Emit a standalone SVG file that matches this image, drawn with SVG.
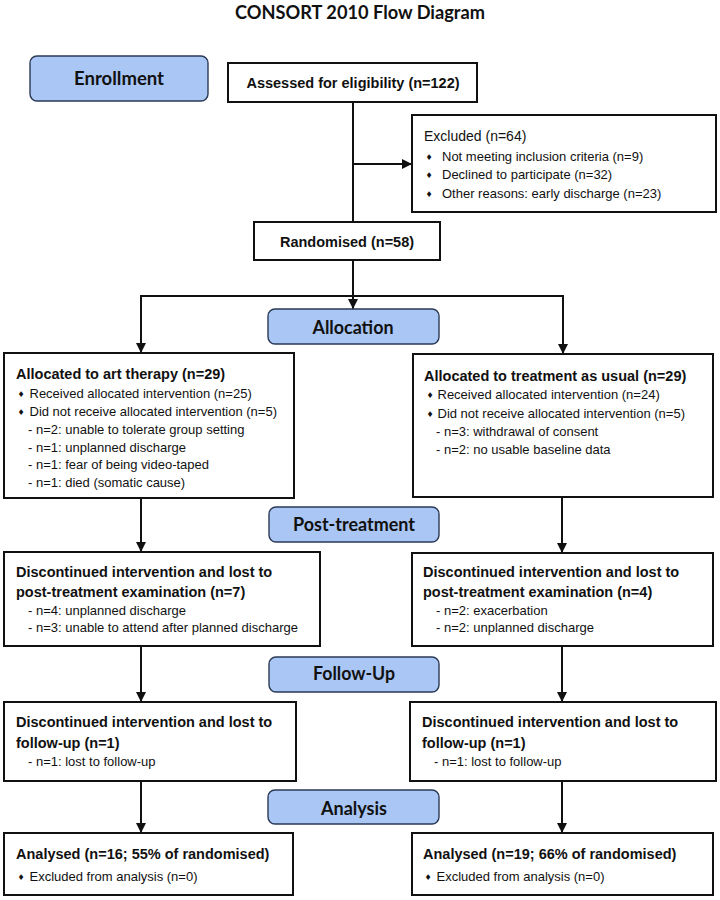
<svg xmlns="http://www.w3.org/2000/svg" width="720" height="900" viewBox="0 0 720 900">
<style>
  .bg{fill:#ffffff}
  .box{fill:#ffffff;stroke:#111;stroke-width:2}
  .phase{fill:#a9c6f5;stroke:#2b3a55;stroke-width:1.4}
  .ph{font-family:Lato,"Open Sans","Liberation Sans",sans-serif;font-weight:bold;font-size:18px;fill:#111;text-anchor:middle}
  .ttl{font-family:Lato,"Open Sans","Liberation Sans",sans-serif;font-weight:bold;font-size:18px;fill:#111;text-anchor:middle}
  .b{font-family:"Liberation Sans",Arial,sans-serif;font-weight:bold;font-size:14.5px;fill:#111}
  .r{font-family:"Liberation Sans",Arial,sans-serif;font-size:13px;fill:#111}
  .ex{font-family:"Liberation Sans",Arial,sans-serif;font-size:14px;fill:#111}
  .dm{font-family:"DejaVu Sans",sans-serif;font-size:8px;fill:#111;text-anchor:middle}
  .ln{fill:none;stroke:#111;stroke-width:2}
</style>
<defs>
  <marker id="arr" markerUnits="userSpaceOnUse" markerWidth="10" markerHeight="10" refX="10" refY="5" orient="auto">
    <path d="M0,0 L10,5 L0,10 z" fill="#111"/>
  </marker>
</defs>
<rect class="bg" x="0" y="0" width="720" height="900"/>
<text class="ttl" x="360" y="19" textLength="250" lengthAdjust="spacingAndGlyphs">CONSORT 2010 Flow Diagram</text>

<g id="connectors">
  <line class="ln" x1="353" y1="102" x2="353" y2="222"/>
  <line class="ln" x1="353" y1="164" x2="412" y2="164" marker-end="url(#arr)"/>
  <line class="ln" x1="353" y1="260" x2="353" y2="309" marker-end="url(#arr)"/>
  <line class="ln" x1="140" y1="296" x2="564" y2="296"/>
  <line class="ln" x1="141" y1="295" x2="141" y2="353" marker-end="url(#arr)"/>
  <line class="ln" x1="563" y1="295" x2="563" y2="354" marker-end="url(#arr)"/>
  <line class="ln" x1="141" y1="498" x2="141" y2="552" marker-end="url(#arr)"/>
  <line class="ln" x1="562" y1="497" x2="562" y2="553" marker-end="url(#arr)"/>
  <line class="ln" x1="141" y1="646" x2="141" y2="702" marker-end="url(#arr)"/>
  <line class="ln" x1="562" y1="646" x2="562" y2="702" marker-end="url(#arr)"/>
  <line class="ln" x1="141" y1="781" x2="141" y2="833" marker-end="url(#arr)"/>
  <line class="ln" x1="562" y1="781" x2="562" y2="833" marker-end="url(#arr)"/>
</g>

<g id="enrollment">
  <rect class="phase" x="30" y="56" width="178" height="45" rx="7"/>
  <text class="ph" x="119" y="85" textLength="90" lengthAdjust="spacingAndGlyphs">Enrollment</text>
</g>
<g id="assessed">
  <rect class="box" x="228" y="63" width="249" height="39"/>
  <text class="b" x="353" y="88" text-anchor="middle">Assessed for eligibility (n=122)</text>
</g>
<g id="excluded">
  <rect class="box" x="412" y="115" width="304" height="97"/>
  <text class="ex" x="424" y="141">Excluded (n=64)</text>
  <text class="dm" x="429" y="160">♦</text><text class="r" x="442" y="160.5">Not meeting inclusion criteria (n=9)</text>
  <text class="dm" x="429" y="178">♦</text><text class="r" x="442" y="178.5">Declined to participate (n=32)</text>
  <text class="dm" x="429" y="197">♦</text><text class="r" x="442" y="197.5">Other reasons: early discharge (n=23)</text>
</g>
<g id="randomised">
  <rect class="box" x="254" y="222" width="186" height="38"/>
  <text class="b" x="347" y="247" text-anchor="middle">Randomised (n=58)</text>
</g>
<g id="allocation">
  <rect class="phase" x="268" y="309" width="171" height="35" rx="7"/>
  <text class="ph" x="353" y="334" textLength="81" lengthAdjust="spacingAndGlyphs">Allocation</text>
</g>
<g id="alloc-art">
  <rect class="box" x="4" y="353" width="290" height="145"/>
  <text class="b" x="16" y="379">Allocated to art therapy (n=29)</text>
  <text class="dm" x="21" y="397">♦</text><text class="r" x="29.5" y="398">Received allocated intervention (n=25)</text>
  <text class="dm" x="21" y="415">♦</text><text class="r" x="29.5" y="416">Did not receive allocated intervention (n=5)</text>
  <text class="r" x="28" y="434">- n=2: unable to tolerate group setting</text>
  <text class="r" x="28" y="452">- n=1: unplanned discharge</text>
  <text class="r" x="28" y="469">- n=1: fear of being video-taped</text>
  <text class="r" x="28" y="487">- n=1: died (somatic cause)</text>
</g>
<g id="alloc-tau">
  <rect class="box" x="413" y="354" width="300" height="143"/>
  <text class="b" x="424" y="381">Allocated to treatment as usual (n=29)</text>
  <text class="dm" x="430" y="398">♦</text><text class="r" x="437.5" y="399">Received allocated intervention (n=24)</text>
  <text class="dm" x="430" y="417">♦</text><text class="r" x="437.5" y="418">Did not receive allocated intervention (n=5)</text>
  <text class="r" x="436" y="436">- n=3: withdrawal of consent</text>
  <text class="r" x="436" y="454">- n=2: no usable baseline data</text>
</g>
<g id="post-treatment">
  <rect class="phase" x="269" y="507" width="170" height="35" rx="7"/>
  <text class="ph" x="354" y="531" textLength="122" lengthAdjust="spacingAndGlyphs">Post-treatment</text>
</g>
<g id="disc-art">
  <rect class="box" x="4" y="552" width="316" height="94"/>
  <text class="b" x="16" y="577">Discontinued intervention and lost to</text>
  <text class="b" x="16" y="597">post-treatment examination (n=7)</text>
  <text class="r" x="28" y="614.5">- n=4: unplanned discharge</text>
  <text class="r" x="28" y="632">- n=3: unable to attend after planned discharge</text>
</g>
<g id="disc-tau">
  <rect class="box" x="412" y="553" width="301" height="93"/>
  <text class="b" x="423" y="577">Discontinued intervention and lost to</text>
  <text class="b" x="423" y="597">post-treatment examination (n=4)</text>
  <text class="r" x="436" y="614.5">- n=2: exacerbation</text>
  <text class="r" x="436" y="632">- n=2: unplanned discharge</text>
</g>
<g id="follow-up">
  <rect class="phase" x="269" y="657" width="170" height="35" rx="7"/>
  <text class="ph" x="354" y="680" textLength="82" lengthAdjust="spacingAndGlyphs">Follow-Up</text>
</g>
<g id="fu-art">
  <rect class="box" x="4" y="702" width="292" height="79"/>
  <text class="b" x="16" y="727">Discontinued intervention and lost to</text>
  <text class="b" x="16" y="748">follow-up (n=1)</text>
  <text class="r" x="28" y="765.5">- n=1: lost to follow-up</text>
</g>
<g id="fu-tau">
  <rect class="box" x="410" y="702" width="306" height="79"/>
  <text class="b" x="422" y="727">Discontinued intervention and lost to</text>
  <text class="b" x="422" y="748">follow-up (n=1)</text>
  <text class="r" x="434" y="765.5">- n=1: lost to follow-up</text>
</g>
<g id="analysis">
  <rect class="phase" x="268" y="790" width="171" height="34" rx="7"/>
  <text class="ph" x="354" y="815" textLength="66" lengthAdjust="spacingAndGlyphs">Analysis</text>
</g>
<g id="analysed-art">
  <rect class="box" x="4" y="833" width="289" height="62"/>
  <text class="b" x="16" y="859">Analysed (n=16; 55% of randomised)</text>
  <text class="dm" x="21" y="880">♦</text><text class="r" x="29.5" y="880.5">Excluded from analysis (n=0)</text>
</g>
<g id="analysed-tau">
  <rect class="box" x="412" y="833" width="301" height="62"/>
  <text class="b" x="423" y="859">Analysed (n=19; 66% of randomised)</text>
  <text class="dm" x="428" y="880">♦</text><text class="r" x="436.5" y="880.5">Excluded from analysis (n=0)</text>
</g>
</svg>
